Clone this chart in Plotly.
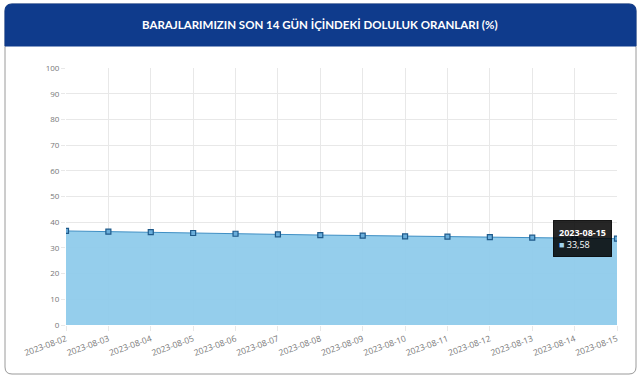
import plotly.graph_objects as go

dates = ["2023-08-02", "2023-08-03", "2023-08-04", "2023-08-05", "2023-08-06",
         "2023-08-07", "2023-08-08", "2023-08-09", "2023-08-10", "2023-08-11",
         "2023-08-12", "2023-08-13", "2023-08-14", "2023-08-15"]
doluluk = [36.6, 36.3, 36.1, 35.8, 35.5, 35.3, 35.0, 34.8, 34.5, 34.4,
           34.2, 34.0, 33.8, 33.58]
y_ticks = [0, 10, 20, 30, 40, 50, 60, 70, 80, 90, 100]
title_text = "BARAJLARIMIZIN SON 14 GÜN İÇİNDEKİ DOLULUK ORANLARI (%)"

W, H = 640, 381
L, R, T, B = 66, 23, 68, 56
PW, PH = W - L - R, H - T - B


def px(x):
    return (x - L) / PW


def py(y):
    return (H - B - y) / PH


def rounded_path(x0, y0, x1, y1, r, top=True, bottom=True):
    rt = r if top else 0
    rb = r if bottom else 0
    pts = []
    pts.append(f"M {px(x0 + rt)},{py(y0)}")
    pts.append(f"L {px(x1 - rt)},{py(y0)}")
    if rt:
        pts.append(f"Q {px(x1)},{py(y0)} {px(x1)},{py(y0 + rt)}")
    pts.append(f"L {px(x1)},{py(y1 - rb)}")
    if rb:
        pts.append(f"Q {px(x1)},{py(y1)} {px(x1 - rb)},{py(y1)}")
    pts.append(f"L {px(x0 + rb)},{py(y1)}")
    if rb:
        pts.append(f"Q {px(x0)},{py(y1)} {px(x0)},{py(y1 - rb)}")
    pts.append(f"L {px(x0)},{py(y0 + rt)}")
    if rt:
        pts.append(f"Q {px(x0)},{py(y0)} {px(x0 + rt)},{py(y0)}")
    pts.append("Z")
    return " ".join(pts)


fig = go.Figure()
fig.add_trace(go.Scatter(
    x=dates, y=doluluk, mode="lines+markers",
    fill="tozeroy", fillcolor="rgba(140,202,234,0.92)",
    line=dict(color="#3f8fc4", width=1),
    marker=dict(symbol="square", size=5, color="#6aaedb",
                line=dict(color="#1f5a8a", width=1.2)),
    showlegend=False, hoverinfo="x+y",
))

shapes = [
    dict(type="path", xref="paper", yref="paper", layer="below",
         path=rounded_path(5, 4, 636, 374, 7),
         fillcolor="white", line=dict(color="#9a9a9a", width=1)),
    dict(type="path", xref="paper", yref="paper", layer="below",
         path=rounded_path(5, 4, 636, 46, 7, top=True, bottom=False),
         fillcolor="#0f3b8c", line=dict(color="#0f3b8c", width=1)),
]

annotations = [
    dict(xref="paper", yref="paper", x=px(320), y=py(25), showarrow=False,
         text=f"<b>{title_text}</b>", font=dict(family="Lato, Open Sans, sans-serif",
                                                size=11.5, color="white"),
         xanchor="center", yanchor="middle"),
    dict(x=dates[-1], y=doluluk[-1], xref="x", yref="y", showarrow=False,
         xanchor="right", yanchor="middle", xshift=-5, yshift=0,
         text=f"<b>{dates[-1]}</b><br><span style='color:#9fd3f0'>■</span> "
              f"{str(doluluk[-1]).replace('.', ',')}",
         align="left", bgcolor="rgba(0,0,0,0.85)", borderpad=5,
         bordercolor="rgba(0,0,0,0.85)", borderwidth=1,
         font=dict(family="Open Sans, sans-serif", size=9, color="white")),
]

fig.update_layout(
    width=W, height=H,
    margin=dict(l=L, r=R, t=T, b=B, autoexpand=False),
    paper_bgcolor="white", plot_bgcolor="white",
    shapes=shapes, annotations=annotations,
    font=dict(family="Open Sans, sans-serif", size=8, color="#777"),
    xaxis=dict(type="category", range=[0, len(dates) - 1],
               tickangle=-20, showgrid=True, gridcolor="#e8e8e8",
               gridwidth=1, showline=False, zeroline=False,
               ticks="outside", ticklen=5, tickcolor="#e8e8e8",
               tickfont=dict(size=8.5, color="#777")),
    yaxis=dict(range=[0, 100], tickvals=y_ticks, showgrid=True,
               gridcolor="#e8e8e8", gridwidth=1, zeroline=False,
               showline=False, ticks="outside", ticklen=4, tickcolor="#e8e8e8",
               tickfont=dict(size=8, color="#777")),
)

fig.write_html("out.html")
